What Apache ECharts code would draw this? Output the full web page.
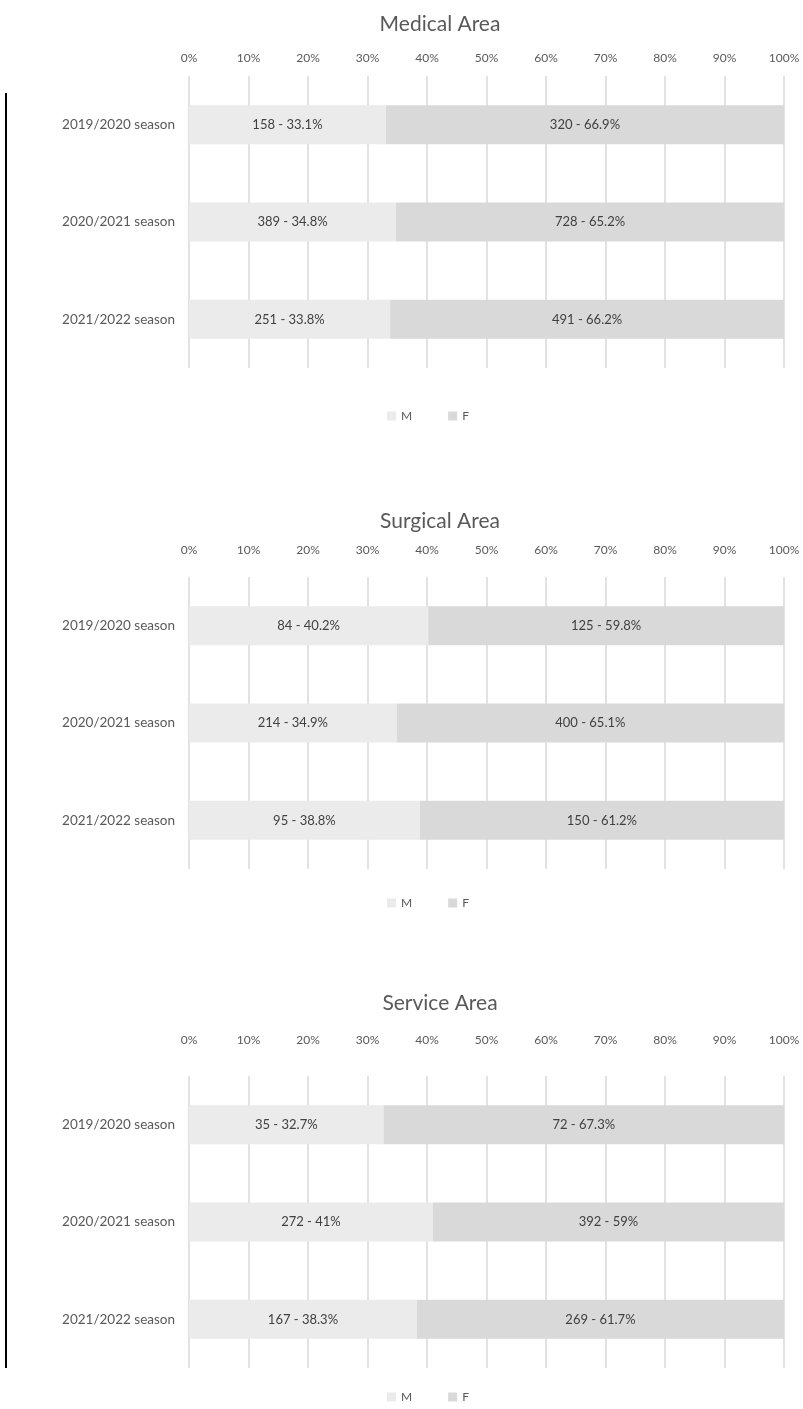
<!DOCTYPE html>
<html>
<head>
<meta charset="utf-8">
<script src="https://cdn.jsdelivr.net/npm/echarts@6/dist/echarts.min.js"></script>
<style>
html,body{margin:0;padding:0;background:#fff;}
#chart{width:803px;height:1409px;}
</style>
</head>
<body>
<div id="chart"></div>
<script>
var categories = ['2019/2020 season', '2020/2021 season', '2021/2022 season'];
var panelTitles = ['Medical Area', 'Surgical Area', 'Service Area'];
var xTicks = [0, 10, 20, 30, 40, 50, 60, 70, 80, 90, 100];

var medicalM = [158, 389, 251];
var medicalF = [320, 728, 491];
var medicalMPct = [33.1, 34.8, 33.8];
var medicalFPct = [66.9, 65.2, 66.2];

var surgicalM = [84, 214, 95];
var surgicalF = [125, 400, 150];
var surgicalMPct = [40.2, 34.9, 38.8];
var surgicalFPct = [59.8, 65.1, 61.2];

var serviceM = [35, 272, 167];
var serviceF = [72, 392, 269];
var serviceMPct = [32.7, 41, 38.3];
var serviceFPct = [67.3, 59, 61.7];

var panels = [
  {M: medicalM, F: medicalF, MP: medicalMPct, FP: medicalFPct},
  {M: surgicalM, F: surgicalF, MP: surgicalMPct, FP: surgicalFPct},
  {M: serviceM, F: serviceF, MP: serviceMPct, FP: serviceFPct}
];

var FONT = 'Lato, "Open Sans", sans-serif';
var gridTops = [76, 577, 1076];
var titleTops = [9, 506, 988];
var legendTops = [405, 892, 1386];
var labelMargins = [12, 21, 30];
var colM = '#ebebeb', colF = '#d9d9d9';

var option = {
  backgroundColor: '#fff',
  animation: false,
  textStyle: {fontFamily: FONT},
  title: [], legend: [], grid: [], xAxis: [], yAxis: [], series: [],
  graphic: [{
    type: 'line', shape: {x1: 6, y1: 93, x2: 6, y2: 1368},
    style: {stroke: '#000', lineWidth: 2}
  }]
};

panels.forEach(function (p, i) {
  option.title.push({
    text: panelTitles[i], left: 435, top: titleTops[i], textAlign: 'center',
    textStyle: {fontFamily: FONT, fontSize: 21, fontWeight: 'normal', color: '#595959'}
  });
  option.legend.push({
    top: legendTops[i], left: 382, itemWidth: 9, itemHeight: 9, itemGap: 36,
    icon: 'rect', data: ['M', 'F'],
    textStyle: {fontFamily: FONT, fontSize: 12, color: '#595959'},
    selectedMode: false
  });
  option.grid.push({left: 189, right: 19, top: gridTops[i], height: 292});
  option.xAxis.push({
    type: 'value', gridIndex: i, position: 'top', min: 0, max: 100, interval: 10,
    axisLine: {show: false}, axisTick: {show: false},
    splitLine: {show: true, lineStyle: {color: '#d9d9d9', width: 1.5}},
    axisLabel: {formatter: '{value}%', fontFamily: FONT, fontSize: 12, color: '#595959', margin: labelMargins[i]}
  });
  option.yAxis.push({
    type: 'category', gridIndex: i, data: categories, inverse: true,
    axisLine: {show: false}, axisTick: {show: false},
    axisLabel: {fontFamily: FONT, fontSize: 13.5, color: '#595959', margin: 14}
  });
  var mk = function (name, counts, pcts, color) {
    return {
      name: name, type: 'bar', stack: 's' + i, xAxisIndex: i, yAxisIndex: i,
      barWidth: '40%', itemStyle: {color: color},
      data: pcts.map(function (v, k) { return {value: v, count: counts[k]}; }),
      label: {
        show: true, position: 'inside', fontFamily: FONT, fontSize: 13, color: '#404040',
        formatter: function (d) { return d.data.count + ' - ' + d.data.value + '%'; }
      }
    };
  };
  option.series.push(mk('M', p.M, p.MP, colM));
  option.series.push(mk('F', p.F, p.FP, colF));
});

var chart = echarts.init(document.getElementById('chart'), null, {renderer: 'canvas'});
chart.setOption(option);
</script>
</body>
</html>
